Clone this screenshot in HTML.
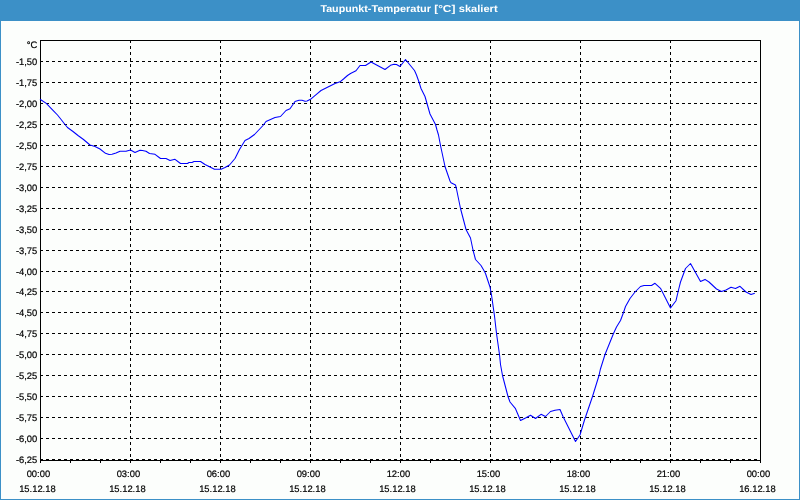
<!DOCTYPE html>
<html><head><meta charset="utf-8"><title>Taupunkt-Temperatur</title>
<style>
html,body{margin:0;padding:0;background:#3C90C7;overflow:hidden}
svg{display:block}
text{font-family:"Liberation Sans",sans-serif;font-size:9.4px;fill:#000;stroke:#000;stroke-width:0.2px;text-rendering:geometricPrecision}
.t{font-weight:bold;fill:#fff;stroke:none;font-size:10px}
.g{stroke:#000;stroke-width:1;stroke-dasharray:3 3;fill:none}
.f{stroke:#000;stroke-width:1;fill:none}
</style></head>
<body>
<svg width="800" height="500" viewBox="0 0 800 500">
<rect x="0" y="0" width="800" height="500" fill="#3C90C7"/>
<rect x="1" y="21" width="798" height="478" fill="#FCFEFC"/>
<text class="t" y="12"><tspan x="320.4" textLength="51" lengthAdjust="spacingAndGlyphs">Taupunkt-</tspan><tspan x="371.5" textLength="59.5" lengthAdjust="spacingAndGlyphs">Temperatur</tspan> <tspan x="434.2" textLength="21.2" lengthAdjust="spacingAndGlyphs">[°C]</tspan> <tspan x="458.8" textLength="38.8" lengthAdjust="spacingAndGlyphs">skaliert</tspan></text>
<line class="g" x1="40" y1="61.5" x2="760" y2="61.5"/>
<line class="g" x1="40" y1="82.5" x2="760" y2="82.5"/>
<line class="g" x1="40" y1="103.5" x2="760" y2="103.5"/>
<line class="g" x1="40" y1="124.5" x2="760" y2="124.5"/>
<line class="g" x1="40" y1="145.5" x2="760" y2="145.5"/>
<line class="g" x1="40" y1="166.5" x2="760" y2="166.5"/>
<line class="g" x1="40" y1="187.5" x2="760" y2="187.5"/>
<line class="g" x1="40" y1="208.5" x2="760" y2="208.5"/>
<line class="g" x1="40" y1="229.5" x2="760" y2="229.5"/>
<line class="g" x1="40" y1="250.5" x2="760" y2="250.5"/>
<line class="g" x1="40" y1="271.5" x2="760" y2="271.5"/>
<line class="g" x1="40" y1="291.5" x2="760" y2="291.5"/>
<line class="g" x1="40" y1="312.5" x2="760" y2="312.5"/>
<line class="g" x1="40" y1="333.5" x2="760" y2="333.5"/>
<line class="g" x1="40" y1="354.5" x2="760" y2="354.5"/>
<line class="g" x1="40" y1="375.5" x2="760" y2="375.5"/>
<line class="g" x1="40" y1="396.5" x2="760" y2="396.5"/>
<line class="g" x1="40" y1="417.5" x2="760" y2="417.5"/>
<line class="g" x1="40" y1="438.5" x2="760" y2="438.5"/>
<line class="g" x1="40" y1="459.5" x2="760" y2="459.5"/>
<line class="g" x1="130.5" y1="40" x2="130.5" y2="460"/>
<line class="g" x1="220.5" y1="40" x2="220.5" y2="460"/>
<line class="g" x1="310.5" y1="40" x2="310.5" y2="460"/>
<line class="g" x1="400.5" y1="40" x2="400.5" y2="460"/>
<line class="g" x1="490.5" y1="40" x2="490.5" y2="460"/>
<line class="g" x1="580.5" y1="40" x2="580.5" y2="460"/>
<line class="g" x1="670.5" y1="40" x2="670.5" y2="460"/>
<rect class="f" x="40.5" y="40.5" width="720" height="420"/>
<path class="f" d="M40.5 460V463M70.5 460V463M100.5 460V463M130.5 460V463M160.5 460V463M190.5 460V463M220.5 460V463M250.5 460V463M280.5 460V463M310.5 460V463M340.5 460V463M370.5 460V463M400.5 460V463M430.5 460V463M460.5 460V463M490.5 460V463M520.5 460V463M550.5 460V463M580.5 460V463M610.5 460V463M640.5 460V463M670.5 460V463M700.5 460V463M730.5 460V463M760.5 460V463"/>
<path d="M40 99.2 L46.3 103.4 L53 110.3 L57.5 115 L61.5 120 L65 124.5 L67.5 127.5 L73 131.5 L78 135.5 L83.5 139.5 L90 145 L95 146.5 L100 149 L105.5 153.3 L109 154.5 L112 154.3 L116 153 L120 151.2 L126 151.2 L130.5 150 L135 152.5 L140 150.3 L142.5 150.5 L146 151.3 L149.5 153.5 L155 154.3 L160.5 158.5 L166 158.5 L170 160.5 L175 159.3 L180.5 163.5 L187.5 163.5 L189 162.5 L192 162.5 L194 161.5 L200.5 161.5 L205 164.5 L210 167 L214.5 169.3 L221 169.3 L225 167.5 L229.5 165 L235 158.5 L239.5 149.5 L245 140.5 L249 138.5 L254.5 134.5 L263 125.5 L266 121.5 L275 117.5 L280.5 116.5 L286 110.5 L290 108.8 L295 101.5 L299 100.3 L302 100.3 L305 101.3 L307 101 L310.5 99.3 L317 93.8 L321 90.5 L327 87.5 L335 83.5 L340 81.8 L343.5 79 L347.5 75.5 L350.5 73.5 L356 70.8 L360 65.5 L365.5 65.5 L371 62 L385 69.5 L390.5 65.3 L394 64.3 L396.5 64.5 L400 66.5 L405.5 59.5 L414.5 70.5 L416.5 75 L419 82 L421 88.5 L425 96.5 L427 103.5 L430 114 L435.5 124.5 L437 130 L438.5 135 L440.5 145.5 L445 166.5 L450 181 L451 182.8 L455.5 185 L456.5 189 L460.5 208.5 L465.5 227.5 L466 229.5 L470.5 238 L473 250 L475.5 259.5 L481 265.5 L484.5 271.5 L485.5 273.5 L490 287 L491.5 295 L493.5 309 L494.5 316 L496.5 333.5 L499.5 354.5 L500.5 364.5 L502.5 375.5 L505.5 387 L508 396.5 L510 402 L515.5 408.7 L520.5 420.5 L525.5 418 L530.5 415.3 L535.5 418.5 L541 414.3 L545.5 416.5 L550.5 411.5 L555 410.3 L560 409.5 L563 416.5 L575.5 441.5 L580 435 L584.5 420 L592.5 396.5 L599 375.5 L600.3 369.5 L605 354.5 L613.5 333.5 L616.5 327 L620.5 320.5 L623.5 312.5 L625.5 306.5 L630 298.5 L635 292 L640.5 286.5 L644 285.5 L651.5 285.5 L655 283.3 L660.5 288.3 L670.5 308 L676 300.7 L678.5 290 L680.5 282 L685.5 268.5 L690.5 263.5 L700.5 281.5 L705 279.4 L709 282 L716.5 289 L721.5 291.5 L726 290 L731 287.3 L735.5 288.4 L740 286.3 L746 292 L751 294.5 L754.8 293.3" fill="none" stroke="#0000FF" stroke-width="1.05" stroke-linejoin="round"/>
<text x="37.3" y="48" text-anchor="end">°C</text>
<text x="37.3" y="64.9" text-anchor="end">-1,50</text>
<text x="37.3" y="85.9" text-anchor="end">-1,75</text>
<text x="37.3" y="106.9" text-anchor="end">-2,00</text>
<text x="37.3" y="127.9" text-anchor="end">-2,25</text>
<text x="37.3" y="148.9" text-anchor="end">-2,50</text>
<text x="37.3" y="169.9" text-anchor="end">-2,75</text>
<text x="37.3" y="190.9" text-anchor="end">-3,00</text>
<text x="37.3" y="211.9" text-anchor="end">-3,25</text>
<text x="37.3" y="232.9" text-anchor="end">-3,50</text>
<text x="37.3" y="253.9" text-anchor="end">-3,75</text>
<text x="37.3" y="274.9" text-anchor="end">-4,00</text>
<text x="37.3" y="294.9" text-anchor="end">-4,25</text>
<text x="37.3" y="315.9" text-anchor="end">-4,50</text>
<text x="37.3" y="336.9" text-anchor="end">-4,75</text>
<text x="37.3" y="357.9" text-anchor="end">-5,00</text>
<text x="37.3" y="378.9" text-anchor="end">-5,25</text>
<text x="37.3" y="399.9" text-anchor="end">-5,50</text>
<text x="37.3" y="420.9" text-anchor="end">-5,75</text>
<text x="37.3" y="441.9" text-anchor="end">-6,00</text>
<text x="37.3" y="462.9" text-anchor="end">-6,25</text>
<text x="38.4" y="477" text-anchor="middle">00:00</text>
<text x="37.4" y="492" text-anchor="middle">15.12.18</text>
<text x="128.4" y="477" text-anchor="middle">03:00</text>
<text x="127.4" y="492" text-anchor="middle">15.12.18</text>
<text x="218.4" y="477" text-anchor="middle">06:00</text>
<text x="217.4" y="492" text-anchor="middle">15.12.18</text>
<text x="308.4" y="477" text-anchor="middle">09:00</text>
<text x="307.4" y="492" text-anchor="middle">15.12.18</text>
<text x="398.4" y="477" text-anchor="middle">12:00</text>
<text x="397.4" y="492" text-anchor="middle">15.12.18</text>
<text x="488.4" y="477" text-anchor="middle">15:00</text>
<text x="487.4" y="492" text-anchor="middle">15.12.18</text>
<text x="578.4" y="477" text-anchor="middle">18:00</text>
<text x="577.4" y="492" text-anchor="middle">15.12.18</text>
<text x="668.4" y="477" text-anchor="middle">21:00</text>
<text x="667.4" y="492" text-anchor="middle">15.12.18</text>
<text x="758.4" y="477" text-anchor="middle">00:00</text>
<text x="757.4" y="492" text-anchor="middle">16.12.18</text>
</svg>
</body></html>
